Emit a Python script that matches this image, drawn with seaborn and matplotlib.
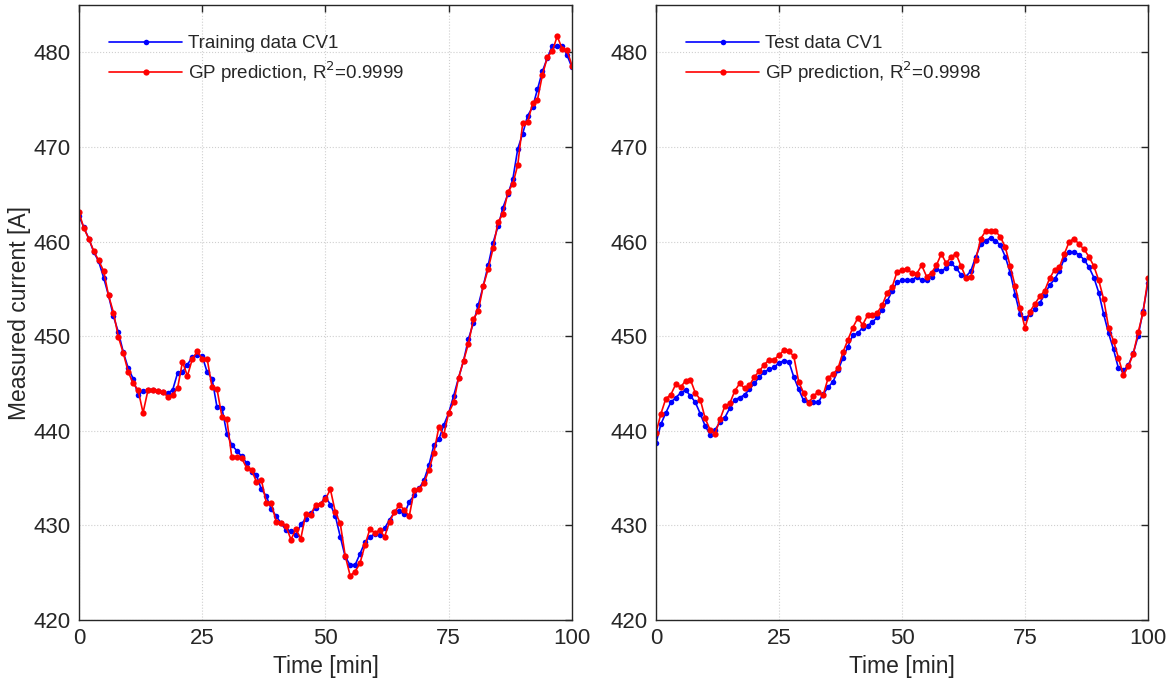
import numpy as np
import pandas as pd
import seaborn as sns
import matplotlib.pyplot as plt

# Zeit in Minuten (101 Messpunkte)
time_min = np.arange(0, 101)

# CV1 Trainingsdaten (links)
train_meas = [
    462.7, 461.5, 460.3, 458.9, 457.9, 456.2, 454.3, 452.1, 450.4, 448.3,
    446.6, 445.5, 443.8, 444.2, 444.3, 444.3, 444.2, 444.1, 444.0, 444.3,
    446.1, 446.2, 447.0, 447.8, 448.0, 447.9, 446.2, 445.5, 442.5, 442.4,
    439.7, 438.5, 437.9, 437.3, 436.6, 435.6, 435.3, 433.8, 433.1, 431.7,
    431.0, 430.2, 429.5, 429.4, 429.0, 430.1, 430.7, 431.3, 431.8, 432.3,
    433.0, 432.2, 431.0, 428.8, 426.7, 425.8, 425.8, 427.0, 428.2, 428.8,
    429.1, 429.0, 429.7, 430.6, 431.4, 431.5, 431.2, 432.5, 433.2, 433.9,
    434.8, 436.4, 438.5, 439.1, 440.6, 441.9, 443.7, 445.6, 447.4, 449.7,
    451.4, 453.3, 455.3, 457.5, 459.9, 461.6, 463.6, 465.0, 466.6, 469.8,
    471.4, 473.3, 474.2, 476.1, 478.0, 479.4, 480.7, 480.7, 480.7, 479.7,
    478.4,
]
train_pred = [
    463.1, 461.4, 460.3, 459.0, 458.0, 456.9, 454.3, 452.5, 449.9, 448.2,
    446.2, 445.0, 444.3, 441.9, 444.3, 444.3, 444.2, 444.1, 443.6, 443.8,
    444.5, 447.3, 445.8, 447.6, 448.4, 447.6, 447.6, 444.6, 444.4, 441.5,
    441.2, 437.2, 437.2, 437.1, 436.1, 435.9, 434.6, 434.8, 432.4, 432.4,
    430.4, 430.3, 429.9, 428.5, 429.6, 428.6, 431.2, 431.1, 432.2, 432.3,
    432.8, 433.8, 431.4, 430.2, 426.8, 424.7, 425.1, 426.0, 427.9, 429.6,
    429.2, 429.5, 428.8, 430.4, 431.4, 432.2, 431.6, 431.0, 433.7, 433.8,
    434.5, 435.9, 437.7, 440.4, 439.6, 441.9, 443.0, 445.6, 447.4, 449.2,
    451.8, 452.7, 455.3, 457.1, 459.3, 462.1, 462.9, 465.2, 466.1, 468.1,
    472.5, 472.6, 474.6, 475.0, 477.6, 479.5, 480.1, 481.7, 480.4, 480.2,
    478.6,
]

# CV1 Testdaten (rechts)
test_meas = [
    438.7, 440.7, 441.9, 443.0, 443.5, 444.0, 444.3, 443.7, 443.0, 441.8,
    440.5, 439.6, 440.1, 440.9, 441.4, 442.4, 443.3, 443.5, 443.8, 444.4,
    445.0, 445.7, 446.2, 446.5, 446.7, 447.2, 447.4, 447.3, 445.7, 444.4,
    443.2, 443.0, 443.0, 443.0, 443.9, 444.6, 445.2, 446.4, 447.7, 448.9,
    450.1, 450.3, 450.9, 451.1, 451.5, 452.0, 452.8, 453.7, 454.8, 455.7,
    455.9, 455.9, 455.9, 456.3, 455.9, 455.9, 456.3, 457.1, 456.9, 457.2,
    457.7, 457.2, 456.5, 456.3, 456.9, 458.4, 459.7, 460.1, 460.4, 460.1,
    459.6, 458.4, 456.7, 454.4, 452.3, 451.9, 452.3, 452.9, 453.5, 454.4,
    455.4, 456.0, 456.9, 458.2, 458.9, 458.9, 458.6, 458.1, 457.3, 456.2,
    454.6, 452.3, 450.3, 448.6, 446.6, 446.4, 446.9, 448.2, 450.0, 452.7,
    455.6,
]
test_pred = [
    439.8, 441.8, 443.4, 443.8, 444.9, 444.6, 445.3, 445.4, 444.0, 443.3,
    441.3, 440.1, 439.7, 441.2, 442.6, 442.9, 444.2, 445.0, 444.5, 444.8,
    445.7, 446.3, 447.0, 447.5, 447.5, 448.0, 448.5, 448.4, 447.9, 445.2,
    444.0, 442.9, 443.7, 444.1, 443.8, 445.6, 446.0, 446.6, 448.3, 449.6,
    450.9, 451.9, 451.2, 452.2, 452.2, 452.5, 453.3, 454.6, 455.2, 456.8,
    457.0, 457.1, 456.7, 456.6, 457.5, 456.3, 456.7, 457.5, 458.7, 457.7,
    458.4, 458.7, 457.4, 456.2, 456.3, 458.1, 460.3, 461.1, 461.1, 461.1,
    460.5, 459.4, 457.4, 455.3, 453.0, 450.9, 452.6, 453.4, 454.2, 454.8,
    456.1, 457.0, 457.3, 458.7, 460.0, 460.3, 459.7, 459.2, 458.4, 457.4,
    455.9, 453.9, 450.9, 449.5, 447.7, 445.9, 446.8, 448.1, 450.4, 452.5,
    456.1,
]

sns.set_theme(style="white")
plt.rcParams['font.family'] = ['Liberation Sans', 'DejaVu Sans']

fig = plt.figure(figsize=(11.75, 6.84), dpi=100)
ax1 = fig.add_axes([0.0672, 0.0936, 0.4196, 0.899])
ax2 = fig.add_axes([0.5583, 0.0936, 0.4187, 0.899])

panels = [
    (ax1, train_meas, train_pred, "Training data CV1", "GP prediction, R$^2$=0.9999"),
    (ax2, test_meas, test_pred, "Test data CV1", "GP prediction, R$^2$=0.9998"),
]

for ax, meas, pred, lab_meas, lab_pred in panels:
    df = pd.DataFrame({"t": time_min, "meas": meas, "pred": pred})
    sns.lineplot(data=df, x="t", y="meas", ax=ax, color="#0000ff", lw=1.2,
                 marker="o", markersize=4, markeredgewidth=0, label=lab_meas)
    sns.lineplot(data=df, x="t", y="pred", ax=ax, color="#ff0000", lw=1.2,
                 marker="o", markersize=4.5, markeredgewidth=0, label=lab_pred)
    ax.set_xlim(0, 100)
    ax.set_ylim(420, 485)
    ax.set_xticks([0, 25, 50, 75, 100])
    ax.set_yticks([420, 430, 440, 450, 460, 470, 480])
    ax.grid(True, linestyle=":", color="#cfcfcf", linewidth=0.8)
    ax.tick_params(direction="in", top=True, right=True, length=5,
                   width=1, labelsize=16, colors="#262626", pad=6)
    for s in ax.spines.values():
        s.set_color("#262626")
        s.set_linewidth(1)
    ax.set_xlabel("Time [min]", fontsize=16.5, color="#262626", labelpad=4)
    ax.set_ylabel("")
    ax.legend(loc="upper left", frameon=False, fontsize=13.5,
              handlelength=3.9, handletextpad=0.3, borderaxespad=1.1,
              borderpad=0.5, labelspacing=0.38)

ax1.set_ylabel("Measured current [A]", fontsize=16.5, color="#262626", labelpad=2)

fig.savefig("out.png", dpi=100)
